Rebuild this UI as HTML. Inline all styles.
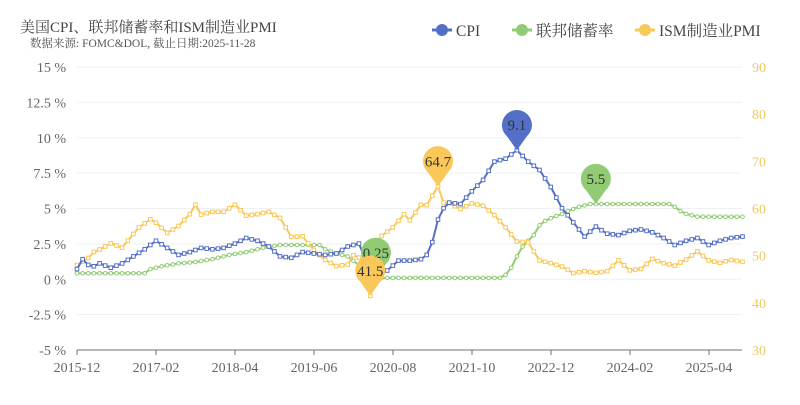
<!DOCTYPE html>
<html><head><meta charset="utf-8"><style>
body{margin:0;background:#fff;width:800px;height:400px;overflow:hidden}
svg{font-family:"Liberation Serif","Noto Serif CJK SC",serif}
</style></head><body>
<svg id="s" width="800" height="400" xmlns="http://www.w3.org/2000/svg"></svg>
<script>
const s=document.getElementById('s');let h='';
const X0=77,DX=5.64,Y0=279,PY=14.15;
const yl=v=>Y0-v*PY, yr=v=>67+(90-v)*4.717, xm=i=>X0+i*DX;
h+='<text x="20" y="32" font-size="15" fill="#444">美国CPI、联邦储蓄率和ISM制造业PMI</text>';
h+='<text x="30" y="47" font-size="11.5" fill="#555">数据来源: FOMC&amp;DOL, 截止日期:2025-11-28</text>';
const leg=[[432,'#5470c6','CPI'],[512,'#91cc75','联邦储蓄率'],[635,'#fac858','ISM制造业PMI']];
leg.forEach(([x,c,t])=>{h+=`<line x1="${x}" y1="30" x2="${x+20}" y2="30" stroke="${c}" stroke-width="3"/><circle cx="${x+10}" cy="30" r="6" fill="${c}"/><text x="${x+24}" y="36" font-size="15.5" fill="#444">${t}</text>`;});
for(let k=0;k<=8;k++){const y=67+k*283/8;const v=15-2.5*k;
 if(k<8)h+=`<line x1="77" y1="${y}" x2="742" y2="${y}" stroke="#eef0f3"/>`;
 h+=`<text x="66" y="${y+5}" font-size="14" fill="#666" text-anchor="end">${v.toString()} %</text>`;}
for(let r=90;r>=30;r-=10){h+=`<text x="752" y="${yr(r)+5}" font-size="14" fill="#f0c860">${r}</text>`;}
h+='<line x1="77" y1="350" x2="742" y2="350" stroke="#6e7079"/>';
const xl=['2015-12','2017-02','2018-04','2019-06','2020-08','2021-10','2022-12','2024-02','2025-04'];
xl.forEach((t,i)=>{const x=77+i*79;h+=`<line x1="${x}" y1="350" x2="${x}" y2="355" stroke="#6e7079"/><text x="${x}" y="372" font-size="14" fill="#666" text-anchor="middle">${t}</text>`;});
function interp(kf){const a=[];const ks=Object.keys(kf).map(Number).sort((a,b)=>a-b);
 for(let i=0;i<=118;i++){let j=0;while(j<ks.length-1&&ks[j+1]<i)j++;const k0=ks[j],k1=ks[Math.min(j+1,ks.length-1)];
 if(i<=k0)a.push(kf[k0]);else a.push(kf[k0]+(kf[k1]-kf[k0])*(i-k0)/(k1-k0));}return a;}
const cpi=interp({0:0.7,1:1.4,2:1.0,3:0.9,4:1.1,6:0.8,8:1.1,10:1.6,12:2.1,14:2.7,16:2.2,18:1.7,20:1.9,22:2.2,24:2.1,26:2.2,28:2.5,30:2.9,32:2.7,34:2.3,36:1.6,38:1.5,40:1.9,42:1.8,44:1.7,46:1.8,48:2.3,50:2.5,51:1.5,53:0.1,55:0.6,57:1.3,59:1.3,61:1.4,62:1.7,63:2.6,64:4.2,65:5.0,66:5.4,68:5.3,70:6.2,72:7.0,74:8.3,76:8.5,78:9.1,80:8.3,82:7.7,84:6.5,86:5.0,88:4.0,90:3.0,92:3.7,94:3.2,96:3.1,98:3.4,100:3.5,102:3.3,104:2.9,106:2.4,108:2.7,110:2.9,112:2.4,114:2.7,116:2.9,118:3.0});
const fed=interp({0:0.4,12:0.4,13:0.7,15:0.9,18:1.1,21:1.2,24:1.4,27:1.7,30:1.9,33:2.2,36:2.4,43:2.4,44:2.1,46:1.8,48:1.6,51:0.65,52:0.08,75:0.08,76:0.3,77:0.8,78:1.6,79:2.3,81:3.1,82:3.8,83:4.1,84:4.3,86:4.6,87:4.8,89:5.1,91:5.3,105:5.3,106:5.1,107:4.8,108:4.6,110:4.4,118:4.4});
const pmi=interp({0:48,2:49.5,3:50.8,4:51.3,6:52.6,8:51.7,9:53.2,11:56,13:57.7,14:57,16:54.8,18:56.3,20:58.8,21:60.8,22:58.7,24:59.3,26:59.3,28:60.8,30:58.5,32:58.8,34:59.3,36:58,38:54,40:54.1,42:51.2,44:49.1,46:47.8,48:48.1,49:50.1,51:49.1,52:41.5,53:52.6,54:54.2,56:56,58:58.8,59:57.5,61:60.8,62:60.7,64:64.7,65:61.2,66:61.1,68:59.9,70:61.1,72:60.6,74:58.6,76:56,78:53,80:52.8,82:49,84:48.4,86:47.7,88:46.3,90:46.7,92:46.4,94:46.7,96:49,98:46.9,100:47.2,102:49.3,104:48.4,106:47.9,108:49.2,110:50.9,112:49,114:48.5,116:49.1,118:48.7});
function series(d,f,c,sq){let p=d.map((v,i)=>`${xm(i).toFixed(1)},${f(v).toFixed(1)}`).join(' ');
 h+=`<polyline points="${p}" fill="none" stroke="${c}" stroke-width="2"/>`;
 d.forEach((v,i)=>{const x=xm(i),y=f(v);
 if(sq)h+=`<rect x="${(x-1.8).toFixed(1)}" y="${(y-1.8).toFixed(1)}" width="3.6" height="3.6" fill="#fff" stroke="${c}" stroke-width="1"/>`;
 else h+=`<circle cx="${x.toFixed(1)}" cy="${y.toFixed(1)}" r="1.8" fill="#fff" stroke="${c}" stroke-width="1"/>`;});}
series(fed,yl,'#91cc75',false);series(pmi,yr,'#fac858',true);series(cpi,yl,'#5470c6',true);
function pin(x,y,c,t){const R=15,cy=y-25;h+=`<path d="M${x} ${y} L${x-10} ${cy+11} A${R} ${R} 0 1 1 ${x+10} ${cy+11} Z" fill="${c}"/><text x="${x}" y="${cy+5}" font-size="15" fill="#333" text-anchor="middle">${t}</text>`;}
pin(xm(53),yl(0.08),'#91cc75','0.25');
pin(xm(52),yr(41.5),'#fac858','41.5');
pin(xm(64),yr(64.7),'#fac858','64.7');
pin(xm(78),yl(9.1),'#5470c6','9.1');
pin(xm(92),yl(5.3),'#91cc75','5.5');
s.innerHTML=h;
</script>
</body></html>
